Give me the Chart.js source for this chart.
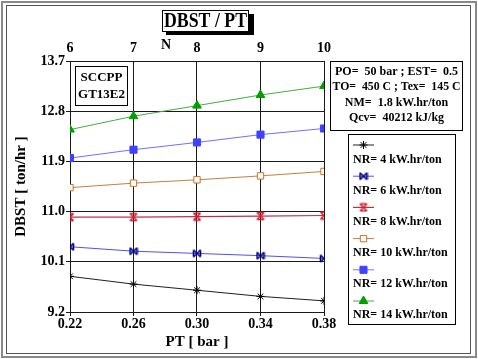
<!DOCTYPE html>
<html>
<head>
<meta charset="utf-8">
<script src="https://cdn.jsdelivr.net/npm/chart.js@4/dist/chart.umd.min.js"></script>
<style>
  html, body { margin: 0; padding: 0; background: #fff; }
  #wrap { width: 478px; height: 359px; }
</style>
</head>
<body>
<div id="wrap"><canvas id="c" width="478" height="359"></canvas></div>
<script>
// ---- data ----
const ptValues = [0.22, 0.26, 0.30, 0.34, 0.38];
const xTickLabels = ['0.22', '0.26', '0.30', '0.34', '0.38'];
const nTickLabels = ['6', '7', '8', '9', '10'];
const yTickLabels = ['9.2', '10.1', '11.0', '11.9', '12.8', '13.7'];
const seriesNames = ['NR= 4 kW.hr/ton', 'NR= 6 kW.hr/ton', 'NR= 8 kW.hr/ton',
                     'NR= 10 kW.hr/ton', 'NR= 12 kW.hr/ton', 'NR= 14 kW.hr/ton'];
const nr4  = [9.84, 9.70, 9.59, 9.48, 9.40];
const nr6  = [10.37, 10.29, 10.25, 10.21, 10.16];
const nr8  = [10.90, 10.90, 10.91, 10.92, 10.93];
const nr10 = [11.43, 11.51, 11.57, 11.64, 11.72];
const nr12 = [11.96, 12.11, 12.24, 12.38, 12.49];
const nr14 = [12.47, 12.71, 12.90, 13.09, 13.25];
const titleText = 'DBST / PT';
const plantLines = ['SCCPP', 'GT13E2'];
const paramLines = ['PO=  50 bar ; EST=  0.5', 'TO=  450 C ; Tex=  145 C',
                    'NM=  1.8 kW.hr/ton', 'Qcv=  40212 kJ/kg'];
const xTitle = 'PT [ bar ]';
const yTitle = 'DBST [ ton/hr ]';
const topTitle = 'N';

const SERIF = "'Liberation Serif', 'Times New Roman', serif";

// custom marker images
function makeMarker(kind, color) {
  const c = document.createElement('canvas');
  c.width = 10; c.height = 10;
  const g = c.getContext('2d');
  g.strokeStyle = color; g.lineWidth = 1.6;
  g.beginPath();
  g.moveTo(1.5, 1.5); g.lineTo(8.5, 8.5);
  g.moveTo(8.5, 1.5); g.lineTo(1.5, 8.5);
  if (kind === 'bowtie') {
    g.moveTo(1.5, 1.5); g.lineTo(1.5, 8.5);
    g.moveTo(8.5, 1.5); g.lineTo(8.5, 8.5);
  } else {
    g.moveTo(1.5, 1.5); g.lineTo(8.5, 1.5);
    g.moveTo(1.5, 8.5); g.lineTo(8.5, 8.5);
  }
  g.stroke();
  return c;
}
const bowtie = makeMarker('bowtie', '#000080');
const hourglass = makeMarker('hourglass', '#d02030');

function pts(arr) { return arr.map((v, i) => ({ x: ptValues[i], y: v })); }

const datasets = [
  { label: seriesNames[0], data: pts(nr4), borderColor: '#202020', borderWidth: 1,
    pointStyle: 'star', pointRadius: 4, pointBorderColor: '#000', pointBackgroundColor: '#000', pointBorderWidth: 1 },
  { label: seriesNames[1], data: pts(nr6), borderColor: '#5050f0', borderWidth: 1,
    pointStyle: bowtie, pointRadius: 5, pointBorderColor: '#000080', pointBackgroundColor: '#000080' },
  { label: seriesNames[2], data: pts(nr8), borderColor: '#c03040', borderWidth: 1.2,
    pointStyle: hourglass, pointRadius: 5, pointBorderColor: '#d02030', pointBackgroundColor: '#d02030' },
  { label: seriesNames[3], data: pts(nr10), borderColor: '#c08040', borderWidth: 1,
    pointStyle: 'rect', pointRadius: 4.5, pointBorderColor: '#d07020', pointBackgroundColor: '#ffffff', pointBorderWidth: 1 },
  { label: seriesNames[4], data: pts(nr12), borderColor: '#7070ff', borderWidth: 1,
    pointStyle: 'rect', pointRadius: 5, pointBorderColor: '#4040ff', pointBackgroundColor: '#4040ff', pointBorderWidth: 1 },
  { label: seriesNames[5], data: pts(nr14), borderColor: '#40b040', borderWidth: 1,
    pointStyle: 'triangle', pointRadius: 5, pointBorderColor: '#00a000', pointBackgroundColor: '#00a000', pointBorderWidth: 1 }
];
datasets.forEach(d => { d.fill = false; d.tension = 0; d.xAxisID = 'x'; d.yAxisID = 'y'; });

const decorPlugin = {
  id: 'decor',
  beforeDraw(chart) {
    const ctx = chart.ctx;
    ctx.save();
    ctx.fillStyle = '#fff';
    ctx.fillRect(0, 0, chart.width, chart.height);
    ctx.restore();
  },
  afterDraw(chart) {
    const ctx = chart.ctx;
    ctx.save();
    // outer frames
    ctx.strokeStyle = '#8a8a8a'; ctx.lineWidth = 2;
    ctx.strokeRect(2, 2, 474, 355);
    ctx.strokeStyle = '#555'; ctx.lineWidth = 1;
    ctx.strokeRect(6.5, 5.5, 464, 348);

    // title box with shadow
    ctx.fillStyle = '#000';
    ctx.fillRect(166, 14, 88, 21);
    ctx.fillStyle = '#fff';
    ctx.fillRect(162, 10, 87, 22);
    ctx.strokeStyle = '#000'; ctx.lineWidth = 1;
    ctx.strokeRect(162.5, 10.5, 86, 21);
    ctx.fillStyle = '#000';
    ctx.font = 'bold 20px ' + SERIF;
    ctx.textAlign = 'center'; ctx.textBaseline = 'middle';
    ctx.fillText(titleText, 205.5, 21.5, 83);

    // top axis title N
    ctx.font = 'bold 14px ' + SERIF;
    ctx.fillText(topTitle, 166, 45);

    // plant box
    ctx.fillStyle = '#fff';
    ctx.fillRect(75, 66, 53, 40);
    ctx.strokeStyle = '#000';
    ctx.strokeRect(75.5, 66.5, 52, 39);
    ctx.fillStyle = '#000';
    ctx.font = 'bold 13px ' + SERIF;
    ctx.fillText(plantLines[0], 101.5, 77.5);
    ctx.fillText(plantLines[1], 101.5, 94.5);

    // parameter box
    ctx.fillStyle = '#fff';
    ctx.fillRect(330, 61, 133, 70);
    ctx.strokeStyle = '#000';
    ctx.strokeRect(330.5, 61.5, 132, 69);
    ctx.fillStyle = '#000';
    ctx.font = 'bold 12px ' + SERIF;
    const py = [71.5, 87, 102.5, 118];
    paramLines.forEach((t, i) => ctx.fillText(t, 396.5, py[i], 128));

    // legend box
    ctx.fillStyle = '#fff';
    ctx.fillRect(348, 134, 108, 191);
    ctx.strokeStyle = '#000';
    ctx.strokeRect(348.5, 134.5, 107, 190);
    ctx.textAlign = 'left';
    chart.data.datasets.forEach((d, i) => {
      const sy = 145 + 31.2 * i;
      const ty = 159.5 + 31 * i;
      ctx.strokeStyle = d.borderColor; ctx.lineWidth = d.borderWidth;
      ctx.beginPath(); ctx.moveTo(353, sy); ctx.lineTo(374, sy); ctx.stroke();
      ctx.fillStyle = d.pointBackgroundColor; ctx.strokeStyle = d.pointBorderColor;
      ctx.lineWidth = d.pointBorderWidth || 1;
      Chart.helpers.drawPoint(ctx, { pointStyle: d.pointStyle, radius: d.pointRadius, borderWidth: d.pointBorderWidth || 1, rotation: 0 }, 363.5, sy);
      ctx.fillStyle = '#000';
      ctx.font = 'bold 12px ' + SERIF;
      ctx.fillText(d.label, 353, ty, 100);
    });
    ctx.restore();
  }
};

const tickFont = { family: SERIF, size: 14, weight: 'bold' };

new Chart(document.getElementById('c'), {
  type: 'line',
  data: { datasets },
  plugins: [decorPlugin],
  options: {
    responsive: false,
    animation: false,
    layout: { padding: { left: 0, right: 154, top: 0, bottom: 0 } },
    plugins: { legend: { display: false }, title: { display: false }, tooltip: { enabled: false } },
    scales: {
      x: {
        type: 'linear', position: 'bottom', min: 0.22, max: 0.38,
        ticks: { stepSize: 0.04, font: tickFont, color: '#000', padding: 0,
                 callback: (v, i) => xTickLabels[i] },
        grid: { color: '#1a1a1a', lineWidth: 1, tickLength: 4 },
        border: { color: '#1a1a1a' },
        title: { display: true, text: xTitle, color: '#000',
                 font: { family: SERIF, size: 15, weight: 'bold' }, padding: { top: 0, bottom: 8 } },
        afterFit: s => { s.height = 47; }
      },
      x2: {
        type: 'linear', position: 'top', min: 6, max: 10,
        ticks: { stepSize: 1, font: tickFont, color: '#000', padding: 4,
                 callback: (v, i) => nTickLabels[i] },
        grid: { display: false, drawTicks: false },
        border: { display: false },
        afterFit: s => { s.height = 61; }
      },
      y: {
        type: 'linear', position: 'left', min: 9.2, max: 13.7,
        ticks: { stepSize: 0.9, font: tickFont, color: '#000', padding: 1,
                 callback: (v, i) => yTickLabels[i] },
        grid: { color: '#1a1a1a', lineWidth: 1, tickLength: 4 },
        border: { color: '#1a1a1a' },
        title: { display: true, text: yTitle, color: '#000',
                 font: { family: SERIF, size: 15, weight: 'bold' }, padding: { top: 12.5, bottom: 0 } },
        afterFit: s => { s.width = 70; }
      }
    }
  }
});
</script>
</body>
</html>
